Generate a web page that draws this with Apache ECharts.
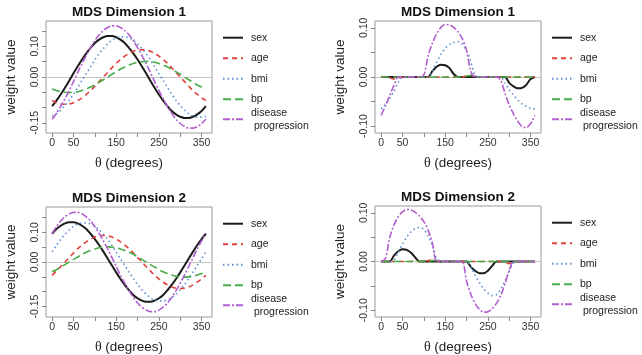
<!DOCTYPE html>
<html>
<head>
<meta charset="utf-8">
<script src="https://cdn.jsdelivr.net/npm/echarts@6/dist/echarts.min.js"></script>
<style>
  html, body { margin: 0; padding: 0; background: #fff; }
  #chart { width: 642px; height: 355px; }
</style>
</head>
<body>
<div id="chart"></div>
<script>
// angle grid (degrees)
const theta = [0, 10, 20, 30, 40, 50, 60, 70, 80, 90, 100, 110, 120, 130, 140, 150, 160, 170, 180,
  190, 200, 210, 220, 230, 240, 250, 260, 270, 280, 290, 300, 310, 320, 330, 340, 350, 360]

const seriesNames = ["sex", "age", "bmi", "bp", "disease progression"]

// MDS dimension 1 (left panel)
const dim1Sex = [-0.095, -0.077, -0.057, -0.035, -0.012, 0.012, 0.035, 0.057, 0.077, 0.095, 0.111, 0.122, 0.130, 0.134, 0.134, 0.130, 0.122, 0.111, 0.095, 0.077, 0.057, 0.035, 0.012, -0.012, -0.035, -0.057, -0.077, -0.095, -0.111, -0.122, -0.130, -0.134, -0.134, -0.130, -0.122, -0.111, -0.095]
const dim1Age = [-0.077, -0.084, -0.088, -0.089, -0.088, -0.084, -0.077, -0.068, -0.057, -0.045, -0.030, -0.015, 0, 0.015, 0.030, 0.045, 0.057, 0.068, 0.077, 0.084, 0.088, 0.089, 0.088, 0.084, 0.077, 0.068, 0.057, 0.045, 0.030, 0.015, 0, -0.015, -0.030, -0.045, -0.057, -0.068, -0.077]
const dim1Bmi = [-0.128, -0.120, -0.108, -0.093, -0.076, -0.056, -0.034, -0.011, 0.011, 0.034, 0.056, 0.076, 0.093, 0.108, 0.120, 0.128, 0.131, 0.131, 0.128, 0.120, 0.108, 0.093, 0.076, 0.056, 0.034, 0.011, -0.011, -0.034, -0.056, -0.076, -0.093, -0.108, -0.120, -0.128, -0.131, -0.131, -0.128]
const dim1Bp = [-0.039, -0.044, -0.048, -0.050, -0.051, -0.050, -0.048, -0.044, -0.039, -0.033, -0.026, -0.017, -0.009, 0, 0.009, 0.017, 0.026, 0.033, 0.039, 0.044, 0.048, 0.050, 0.051, 0.050, 0.048, 0.044, 0.039, 0.033, 0.026, 0.017, 0.009, 0, -0.009, -0.017, -0.026, -0.033, -0.039]
const dim1Dp = [-0.138, -0.119, -0.096, -0.071, -0.044, -0.015, 0.015, 0.044, 0.071, 0.096, 0.119, 0.138, 0.152, 0.162, 0.167, 0.167, 0.162, 0.152, 0.138, 0.119, 0.096, 0.071, 0.044, 0.015, -0.015, -0.044, -0.071, -0.096, -0.119, -0.138, -0.152, -0.162, -0.167, -0.167, -0.162, -0.152, -0.138]

// MDS dimension 1 (right panel, sparse)
const sparse1Sex = [0, 0, 0, 0, 0, 0, 0, 0, 0, 0, 0, 0, 0.012, 0.021, 0.025, 0.024, 0.018, 0.006, 0, 0, 0, 0, 0, 0, 0, 0, 0, 0, 0, 0, -0.012, -0.019, -0.023, -0.022, -0.016, -0.004, 0]
const sparse1Age = [0, 0, -0.002, -0.004, -0.002, 0, 0, 0, 0, 0, 0, 0, 0, 0, 0, 0, 0, 0, 0, 0, 0.002, 0.004, 0.002, 0, 0, 0, 0, 0, 0, 0, 0, 0, 0, 0, 0, 0, 0]
const sparse1Bmi = [-0.065, -0.056, -0.044, -0.029, -0.011, 0, 0, 0, 0, 0, 0, 0, 0.012, 0.030, 0.046, 0.058, 0.066, 0.070, 0.072, 0.067, 0.053, 0.031, 0.003, 0, 0, 0, 0, 0, 0, -0.012, -0.026, -0.037, -0.047, -0.055, -0.060, -0.064, -0.065]
const sparse1Bp = [0, 0, 0, 0, 0, 0, 0, 0, 0, 0, 0, 0, 0, 0, 0, 0, 0, 0, 0, 0, 0.002, 0.003, 0.002, 0, 0, 0, 0, 0, 0, 0, 0, 0, 0, 0, 0, 0, 0]
const sparse1Dp = [-0.078, -0.059, -0.038, -0.017, 0, 0, 0, 0, 0, 0, 0.004, 0.043, 0.069, 0.088, 0.101, 0.107, 0.106, 0.101, 0.092, 0.078, 0.054, 0.012, 0, 0, 0, 0, 0, 0, -0.007, -0.033, -0.057, -0.075, -0.090, -0.101, -0.103, -0.095, -0.078]

// MDS dimension 2 (left panel)
const dim2Sex = [0.095, 0.111, 0.122, 0.130, 0.134, 0.134, 0.130, 0.122, 0.111, 0.095, 0.077, 0.057, 0.035, 0.012, -0.012, -0.035, -0.057, -0.077, -0.095, -0.111, -0.122, -0.130, -0.134, -0.134, -0.130, -0.122, -0.111, -0.095, -0.077, -0.057, -0.035, -0.012, 0.012, 0.035, 0.057, 0.077, 0.095]
const dim2Age = [-0.045, -0.030, -0.015, 0, 0.015, 0.030, 0.045, 0.057, 0.068, 0.077, 0.084, 0.088, 0.089, 0.088, 0.084, 0.077, 0.068, 0.057, 0.045, 0.030, 0.015, 0, -0.015, -0.030, -0.045, -0.057, -0.068, -0.077, -0.084, -0.088, -0.089, -0.088, -0.084, -0.077, -0.068, -0.057, -0.045]
const dim2Bmi = [0.034, 0.056, 0.076, 0.093, 0.108, 0.120, 0.128, 0.131, 0.131, 0.128, 0.120, 0.108, 0.093, 0.076, 0.056, 0.034, 0.011, -0.011, -0.034, -0.056, -0.076, -0.093, -0.108, -0.120, -0.128, -0.131, -0.131, -0.128, -0.120, -0.108, -0.093, -0.076, -0.056, -0.034, -0.011, 0.011, 0.034]
const dim2Bp = [-0.033, -0.026, -0.017, -0.009, 0, 0.009, 0.017, 0.026, 0.033, 0.039, 0.044, 0.048, 0.050, 0.051, 0.050, 0.048, 0.044, 0.039, 0.033, 0.026, 0.017, 0.009, 0, -0.009, -0.017, -0.026, -0.033, -0.039, -0.044, -0.048, -0.050, -0.051, -0.050, -0.048, -0.044, -0.039, -0.033]
const dim2Dp = [0.096, 0.119, 0.138, 0.152, 0.162, 0.167, 0.167, 0.162, 0.152, 0.138, 0.119, 0.096, 0.071, 0.044, 0.015, -0.015, -0.044, -0.071, -0.096, -0.119, -0.138, -0.152, -0.162, -0.167, -0.167, -0.162, -0.152, -0.138, -0.119, -0.096, -0.071, -0.044, -0.015, 0.015, 0.044, 0.071, 0.096]

// MDS dimension 2 (right panel, sparse)
const sparse2Sex = [0, 0, 0, 0.012, 0.021, 0.025, 0.024, 0.018, 0.008, 0, 0, 0, 0, 0, 0, 0, 0, 0, 0, 0, 0, -0.011, -0.019, -0.024, -0.024, -0.019, -0.009, 0, 0, 0, 0, 0, 0, 0, 0, 0, 0]
const sparse2Age = [0, 0, 0, 0, 0, 0, 0, 0, 0, 0, 0, 0.002, 0.004, 0.002, 0, 0, 0, 0, 0, 0, 0, 0, 0, 0, 0, 0, 0, 0, 0, -0.002, -0.004, -0.002, 0, 0, 0, 0, 0]
const sparse2Bmi = [0, 0, 0, 0.003, 0.018, 0.036, 0.050, 0.061, 0.068, 0.070, 0.066, 0.053, 0.033, 0.006, 0, 0, 0, 0, 0, 0, 0, -0.010, -0.028, -0.043, -0.056, -0.065, -0.070, -0.068, -0.057, -0.040, -0.021, -0.003, 0, 0, 0, 0, 0]
const sparse2Bp = [0, 0, 0, 0, 0, 0, 0, 0, 0, 0, 0, 0, 0.002, 0.002, 0, 0, 0, 0, 0, 0, 0, 0, 0, 0, 0, 0, 0, 0, 0, 0, 0, 0, 0, 0, 0, 0, 0]
const sparse2Dp = [0, 0.006, 0.049, 0.075, 0.092, 0.102, 0.107, 0.106, 0.101, 0.093, 0.082, 0.065, 0.038, 0, 0, 0, 0, 0, 0, 0, -0.040, -0.067, -0.086, -0.098, -0.104, -0.103, -0.097, -0.086, -0.070, -0.046, -0.018, 0, 0, 0, 0, 0, 0]

// axis ticks and labels
const xTicks = [0, 50, 100, 150, 200, 250, 300, 350]
const xLabels = [0, 50, 150, 250, 350]
const yTicksWide = [-0.15, -0.1, -0.05, 0, 0.05, 0.1, 0.15]
const yLabelsWide = [-0.15, 0, 0.1]
const yTicksNarrow = [-0.1, -0.05, 0, 0.05, 0.1]
const yLabelsNarrow = [-0.1, 0, 0.1]

const colors = ["#1c1c1c", "#e2403c", "#5b8ed0", "#48ad48", "#b35fcf"]
const dashes = ["solid", [5, 4], [1.5, 3], [8, 4], [7, 2, 2, 2]]
const widths = [2, 1.6, 1.6, 1.6, 1.6]

const panels = [
  { title: "MDS Dimension 1", left: 46, top: 21, lim: 0.183, yTicks: yTicksWide, yLabels: yLabelsWide,
    data: [dim1Sex, dim1Age, dim1Bmi, dim1Bp, dim1Dp], legendLeft: 222 },
  { title: "MDS Dimension 1", left: 375, top: 21, lim: 0.114, yTicks: yTicksNarrow, yLabels: yLabelsNarrow,
    data: [sparse1Sex, sparse1Age, sparse1Bmi, sparse1Bp, sparse1Dp], legendLeft: 551 },
  { title: "MDS Dimension 2", left: 46, top: 207, lim: 0.185, yTicks: yTicksWide, yLabels: yLabelsWide,
    data: [dim2Sex, dim2Age, dim2Bmi, dim2Bp, dim2Dp], legendLeft: 222 },
  { title: "MDS Dimension 2", left: 375, top: 206, lim: 0.114, yTicks: yTicksNarrow, yLabels: yLabelsNarrow,
    data: [sparse2Sex, sparse2Age, sparse2Bmi, sparse2Bp, sparse2Dp], legendLeft: 551 },
]

const PW = 166
const PH = 112
const font = "Liberation Sans, Arial, sans-serif"

const chart = echarts.init(document.getElementById("chart"), null, { renderer: "canvas" })

const series = []
panels.forEach((p, i) => {
  p.data.forEach((vals, k) => {
    const s = {
      name: seriesNames[k],
      type: "line",
      xAxisIndex: i,
      yAxisIndex: i,
      symbol: "none",
      smooth: 0.3,
      silent: true,
      z: 3 + k,
      data: theta.map((t, j) => [t, vals[j]]),
      lineStyle: { color: colors[k], width: widths[k], type: dashes[k] },
      itemStyle: { color: colors[k] },
    }
    if (k === 0) {
      // grey reference line at zero
      s.markLine = {
        silent: true,
        symbol: ["none", "none"],
        label: { show: false },
        lineStyle: { color: "#c4c4c4", width: 1, type: "solid" },
        data: [{ yAxis: 0 }],
        z: 1,
      }
    }
    series.push(s)
  })
})

const legendText = { fontSize: 10.5, color: "#222", padding: [0, 0, 0, 3], fontFamily: font }

const option = {
  animation: false,
  backgroundColor: "#fff",
  textStyle: { fontFamily: font },
  title: panels.map((p) => ({
    text: p.title,
    left: p.left + PW / 2,
    top: p.top - 16,
    textAlign: "center",
    padding: 0,
    textStyle: { fontSize: 13.5, fontWeight: "bold", color: "#111", fontFamily: font },
  })),
  legend: panels.flatMap((p) => [
    {
      data: seriesNames.slice(0, 4),
      orient: "vertical",
      left: p.legendLeft,
      top: p.top + 10.7,
      padding: 0,
      itemWidth: 20,
      itemHeight: 12,
      itemGap: 8.5,
      selectedMode: false,
      itemStyle: { opacity: 0 },
      textStyle: { ...legendText, lineHeight: 12 },
    },
    {
      data: [seriesNames[4]],
      orient: "vertical",
      left: p.legendLeft,
      top: p.top + 85.3,
      padding: 0,
      itemWidth: 20,
      itemHeight: 12,
      selectedMode: false,
      itemStyle: { opacity: 0 },
      formatter: () => "disease\n progression",
      textStyle: { ...legendText, lineHeight: 13 },
    },
  ]),
  grid: panels.map((p) => ({
    left: p.left,
    top: p.top,
    width: PW,
    height: PH,
    show: true,
    borderColor: "#9a9a9a",
    borderWidth: 1,
    backgroundColor: "transparent",
  })),
  xAxis: panels.map((p, i) => ({
    gridIndex: i,
    type: "value",
    min: -14.4,
    max: 374.4,
    name: "{t|θ} (degrees)",
    nameLocation: "middle",
    nameGap: 23,
    nameTextStyle: {
      fontSize: 13.5,
      color: "#222",
      fontFamily: font,
      rich: { t: { fontFamily: "Liberation Serif, DejaVu Serif, serif", fontSize: 14, color: "#222" } },
    },
    axisLine: { show: false, onZero: false },
    splitLine: { show: false },
    axisTick: { customValues: xTicks, length: 4, lineStyle: { color: "#888" } },
    axisLabel: { customValues: xLabels, margin: 5, fontSize: 10.5, color: "#333" },
  })),
  yAxis: panels.map((p, i) => ({
    gridIndex: i,
    type: "value",
    min: -p.lim,
    max: p.lim,
    name: "weight value",
    nameLocation: "middle",
    nameGap: 28,
    nameTextStyle: { fontSize: 13.5, color: "#222", fontFamily: font },
    axisLine: { show: false, onZero: false },
    splitLine: { show: false },
    axisTick: { customValues: p.yTicks, length: 4, lineStyle: { color: "#888" } },
    axisLabel: {
      customValues: p.yLabels,
      rotate: 90,
      margin: 5,
      fontSize: 10.5,
      color: "#333",
      formatter: (v) => v.toFixed(2),
    },
  })),
  series: series,
}

chart.setOption(option)
</script>
</body>
</html>
